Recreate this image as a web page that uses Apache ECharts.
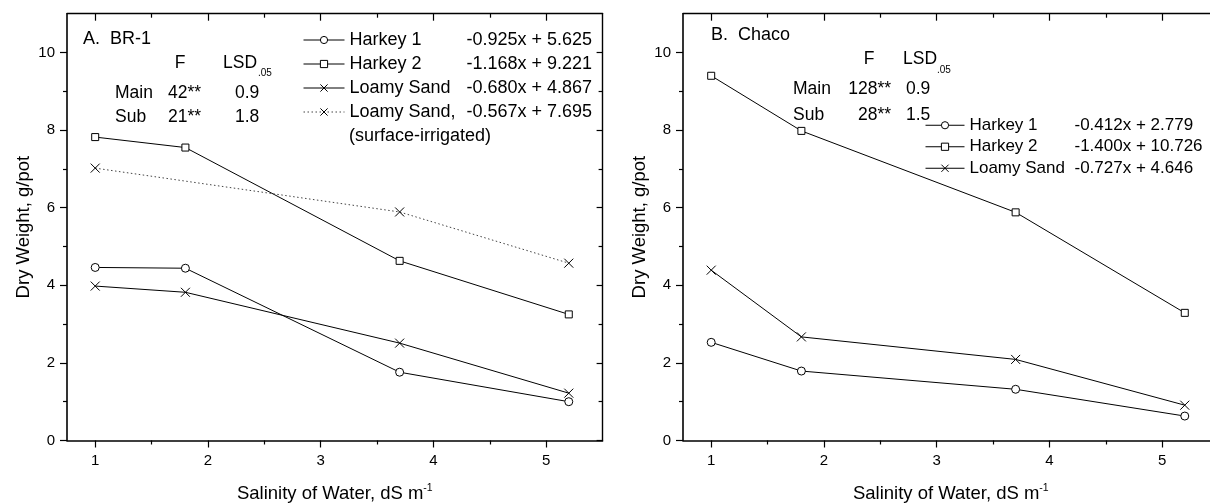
<!DOCTYPE html>
<html>
<head>
<meta charset="utf-8">
<script src="https://cdn.jsdelivr.net/npm/echarts@6/dist/echarts.min.js"></script>
<style>
  html, body { margin: 0; padding: 0; background: #fff; }
  #chart { width: 1210px; height: 503px; }
</style>
</head>
<body>
<div id="chart"></div>
<script>
// Salinity levels of irrigation water (dS m-1)
const salinity = [1, 1.8, 3.7, 5.2];
const salinitySurface = [1, 3.7, 5.2];

// A. BR-1 dry weight, g/pot
const br1Harkey1 = [4.46, 4.44, 1.76, 1.00];
const br1Harkey2 = [7.82, 7.55, 4.63, 3.25];
const br1Loamy = [3.98, 3.82, 2.51, 1.22];
const br1LoamySurface = [7.02, 5.89, 4.57];

// B. Chaco dry weight, g/pot
const chacoHarkey1 = [2.53, 1.79, 1.32, 0.63];
const chacoHarkey2 = [9.40, 7.98, 5.88, 3.29];
const chacoLoamy = [4.39, 2.67, 2.09, 0.91];

// Regression equations shown in the legends
const br1Equations = {
  'Harkey 1': '-0.925x + 5.625',
  'Harkey 2': '-1.168x + 9.221',
  'Loamy Sand': '-0.680x + 4.867',
  'Loamy Sand, (surface-irrigated)': '-0.567x + 7.695'
};
const chacoEquations = {
  'Harkey 1': '-0.412x + 2.779',
  'Harkey 2': '-1.400x + 10.726',
  'Loamy Sand': '-0.727x + 4.646'
};

// Axis ticks
const xMajorTicks = [1, 2, 3, 4, 5];
const xMinorTicks = [1.5, 2.5, 3.5, 4.5];
const yMajorTicks = [0, 2, 4, 6, 8, 10];
const yMinorTicks = [1, 3, 5, 7, 9];

const FONT = "'Liberation Sans', Arial, Helvetica, sans-serif";
const INK = '#000';

const X_MIN = 0.75, X_MAX = 5.5, Y_MIN = 0, Y_MAX = 11;

function pairs(xs, ys) { return xs.map((x, i) => [x, ys[i]]); }

function xAxesFor(gi) {
  const base = { gridIndex: gi, type: 'value', min: X_MIN, max: X_MAX, splitLine: { show: false } };
  return [
    Object.assign({}, base, {
      position: 'bottom',
      axisLine: { show: true, onZero: false, lineStyle: { color: INK, width: 1.6 } },
      axisTick: { show: true, customValues: xMajorTicks, length: 7, lineStyle: { color: INK, width: 1.2 } },
      axisLabel: { show: true, customValues: xMajorTicks, margin: 13, color: INK, fontSize: 15, fontFamily: FONT },
      name: 'Salinity of Water, dS m{sup|-1}',
      nameLocation: 'middle',
      nameGap: 42,
      nameTextStyle: {
        color: INK, fontSize: 18.5, fontFamily: FONT, lineHeight: 22,
        rich: { sup: { fontSize: 10.5, fontFamily: FONT, color: INK, verticalAlign: 'top', lineHeight: 22 } }
      }
    }),
    Object.assign({}, base, {
      position: 'bottom',
      axisLine: { show: false, onZero: false },
      axisTick: { show: true, customValues: xMinorTicks, length: 4, lineStyle: { color: INK, width: 1.2 } },
      axisLabel: { show: false }
    }),
    Object.assign({}, base, {
      position: 'top',
      axisLine: { show: true, onZero: false, lineStyle: { color: INK, width: 1.4 } },
      axisTick: { show: true, inside: true, customValues: xMajorTicks, length: 7, lineStyle: { color: INK, width: 1.2 } },
      axisLabel: { show: false }
    }),
    Object.assign({}, base, {
      position: 'top',
      axisLine: { show: false, onZero: false },
      axisTick: { show: true, inside: true, customValues: xMinorTicks, length: 4, lineStyle: { color: INK, width: 1.2 } },
      axisLabel: { show: false }
    })
  ];
}

function yAxesFor(gi) {
  const base = { gridIndex: gi, type: 'value', min: Y_MIN, max: Y_MAX, splitLine: { show: false } };
  return [
    Object.assign({}, base, {
      position: 'left',
      axisLine: { show: true, onZero: false, lineStyle: { color: INK, width: 1.6 } },
      axisTick: { show: true, customValues: yMajorTicks, length: 7, lineStyle: { color: INK, width: 1.2 } },
      axisLabel: { show: true, customValues: yMajorTicks, margin: 12, color: INK, fontSize: 15, fontFamily: FONT },
      name: 'Dry Weight, g/pot',
      nameLocation: 'middle',
      nameGap: 34,
      nameTextStyle: { color: INK, fontSize: 18.5, fontFamily: FONT }
    }),
    Object.assign({}, base, {
      position: 'left',
      axisLine: { show: false, onZero: false },
      axisTick: { show: true, customValues: yMinorTicks, length: 4, lineStyle: { color: INK, width: 1.2 } },
      axisLabel: { show: false }
    }),
    Object.assign({}, base, {
      position: 'right',
      axisLine: { show: true, onZero: false, lineStyle: { color: INK, width: 1.4 } },
      axisTick: { show: true, inside: true, customValues: yMajorTicks, length: 6, lineStyle: { color: INK, width: 1.2 } },
      axisLabel: { show: false }
    }),
    Object.assign({}, base, {
      position: 'right',
      axisLine: { show: false, onZero: false },
      axisTick: { show: true, inside: true, customValues: yMinorTicks, length: 4, lineStyle: { color: INK, width: 1.2 } },
      axisLabel: { show: false }
    })
  ];
}

// Hollow markers: white fill with a thin black outline; the cross is two strokes
const CROSS = 'path://M0,0L10,10M10,0L0,10';

function lineSeries(name, gi, xs, ys, symbol, size, dotted) {
  return {
    type: 'line',
    name: name,
    xAxisIndex: gi * 4,
    yAxisIndex: gi * 4,
    data: pairs(xs, ys),
    symbol: symbol,
    symbolSize: size,
    showAllSymbol: true,
    animation: false,
    lineStyle: { color: dotted ? '#444' : INK, width: 1, type: dotted ? [1.5, 2.5] : 'solid' },
    itemStyle: { color: '#fff', borderColor: INK, borderWidth: 1 },
    emphasis: { disabled: true }
  };
}

function legendFor(left, top, itemWidth, rowHeight, nameWidth, fontSize, eqs, names) {
  return {
    orient: 'vertical',
    left: left,
    top: top,
    padding: 0,
    itemGap: 0,
    itemWidth: itemWidth,
    itemHeight: 9,
    selectedMode: false,
    data: names,
    lineStyle: { width: 1 },
    itemStyle: { color: '#fff', borderColor: INK, borderWidth: 1 },
    formatter: n => '{n|' + (n.indexOf(',') > 0 ? 'Loamy Sand,' : n) + '}{e|' + eqs[n] + '}',
    textStyle: {
      color: INK, fontSize: fontSize, fontFamily: FONT, lineHeight: rowHeight,
      rich: {
        n: { width: nameWidth, fontSize: fontSize, fontFamily: FONT, color: INK, lineHeight: rowHeight },
        e: { fontSize: fontSize, fontFamily: FONT, color: INK, lineHeight: rowHeight }
      }
    }
  };
}

function txt(x, y, text, opts) {
  return {
    type: 'text',
    x: x, y: y,
    silent: true,
    style: Object.assign({
      text: text, fill: INK, font: '17.5px ' + FONT,
      textAlign: 'left', textVerticalAlign: 'middle'
    }, opts || {})
  };
}

const chart = echarts.init(document.getElementById('chart'), null, { renderer: 'canvas' });

chart.setOption({
  animation: false,
  backgroundColor: '#fff',
  grid: [
    { left: 67, top: 13.7, width: 535.6, height: 426.8, containLabel: false, outerBoundsMode: 'none' },
    { left: 683, top: 13.7, width: 535.6, height: 426.8, containLabel: false, outerBoundsMode: 'none' }
  ],
  xAxis: xAxesFor(0).concat(xAxesFor(1)),
  yAxis: yAxesFor(0).concat(yAxesFor(1)),
  legend: [
    legendFor(303, 28, 41, 24, 117, 18, br1Equations,
      ['Harkey 1', 'Harkey 2', 'Loamy Sand', 'Loamy Sand, (surface-irrigated)']),
    legendFor(925, 114.5, 39, 21.5, 105, 17, chacoEquations,
      ['Harkey 1', 'Harkey 2', 'Loamy Sand'])
  ],
  series: [
    lineSeries('Harkey 1', 0, salinity, br1Harkey1, 'circle', 8, false),
    lineSeries('Harkey 2', 0, salinity, br1Harkey2, 'rect', 7, false),
    lineSeries('Loamy Sand', 0, salinity, br1Loamy, CROSS, 9, false),
    lineSeries('Loamy Sand, (surface-irrigated)', 0, salinitySurface, br1LoamySurface, CROSS, 9, true),
    lineSeries('Harkey 1', 1, salinity, chacoHarkey1, 'circle', 8, false),
    lineSeries('Harkey 2', 1, salinity, chacoHarkey2, 'rect', 7, false),
    lineSeries('Loamy Sand', 1, salinity, chacoLoamy, CROSS, 9, false)
  ],
  graphic: [
    // Panel A annotations
    txt(83, 39, 'A.  BR-1', { font: '18px ' + FONT }),
    txt(180, 63, 'F', { textAlign: 'center' }),
    txt(223, 63, 'LSD'),
    txt(258, 73, '.05', { font: '10px ' + FONT }),
    txt(115, 93, 'Main'), txt(168, 93, '42**'), txt(235, 93, '0.9'),
    txt(115, 117, 'Sub'), txt(168, 117, '21**'), txt(235, 117, '1.8'),
    txt(349, 136, '(surface-irrigated)', { font: '18px ' + FONT }),
    // Panel B annotations
    txt(711, 35, 'B.  Chaco', { font: '18px ' + FONT }),
    txt(869, 59, 'F', { textAlign: 'center' }),
    txt(903, 59, 'LSD'),
    txt(937, 70, '.05', { font: '10px ' + FONT }),
    txt(793, 89, 'Main'), txt(891, 89, '128**', { textAlign: 'right' }), txt(906, 89, '0.9'),
    txt(793, 115, 'Sub'), txt(891, 115, '28**', { textAlign: 'right' }), txt(906, 115, '1.5')
  ]
});
</script>
</body>
</html>
